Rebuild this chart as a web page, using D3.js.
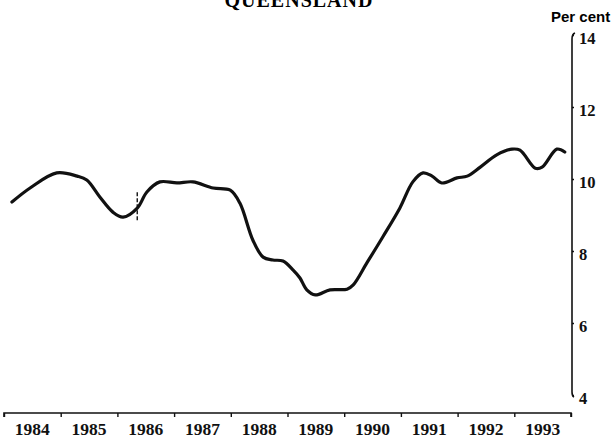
<!DOCTYPE html>
<html><head><meta charset="utf-8">
<script src="https://cdn.jsdelivr.net/npm/d3@7"></script>
<style>body{margin:0;background:#fff}svg{display:block}</style>
</head><body>
<svg id="c" width="616" height="444"></svg>
<script>
const title = "QUEENSLAND";
const unitLabel = "Per cent";
const years = [1984,1985,1986,1987,1988,1989,1990,1991,1992,1993];
const yTicks = [4,6,8,10,12,14];
const t = [1984.14,1984.46,1984.93,1985.29,1985.46,1985.69,1985.92,1986.10,1986.35,1986.52,1986.75,1987.05,1987.33,1987.69,1987.99,1988.16,1988.39,1988.57,1988.74,1988.92,1989.10,1989.22,1989.34,1989.49,1989.75,1990.05,1990.16,1990.40,1990.68,1990.98,1991.21,1991.39,1991.55,1991.72,1991.99,1992.17,1992.40,1992.69,1992.96,1993.10,1993.37,1993.49,1993.75,1993.89];
const v = [9.36,9.75,10.17,10.08,9.97,9.50,9.08,8.94,9.19,9.64,9.92,9.89,9.92,9.75,9.69,9.33,8.30,7.83,7.75,7.72,7.47,7.25,6.92,6.78,6.92,6.94,7.06,7.67,8.39,9.19,9.92,10.17,10.08,9.89,10.03,10.08,10.33,10.67,10.83,10.80,10.30,10.33,10.83,10.75];
const breakMarks = [1986.35];

const svg = d3.select("#c");
const x = d3.scaleLinear().domain([1984,1994]).range([4,571]);
const y = d3.scaleLinear().domain([4,14]).range([395,35]);
const serif = "'Liberation Serif','DejaVu Serif',serif";

svg.append("text").attr("x",299).attr("y",7).attr("text-anchor","middle")
  .attr("font-family",serif).attr("font-weight","bold").attr("font-size",20)
  .attr("letter-spacing",1).text(title);
svg.append("text").attr("x",551).attr("y",22)
  .attr("font-family","'Liberation Sans Narrow','Liberation Sans',sans-serif").attr("font-weight","bold").attr("font-size",15)
  .text(unitLabel);

// x axis
const xa = svg.append("g").attr("transform","translate(0,413)");
xa.call(d3.axisBottom(x).tickValues(d3.range(1984,1995)).tickSize(4).tickFormat(""));
xa.select(".domain").attr("stroke","#111").attr("stroke-width",1.6).attr("d","M4,4V0H571V4");
xa.selectAll(".tick line").attr("stroke","#111").attr("stroke-width",1.4);
xa.selectAll(".yl").data(years).join("text").attr("class","yl")
  .attr("x",d=>x(d+0.5)).attr("y",22).attr("text-anchor","middle")
  .attr("font-family",serif).attr("font-weight","bold").attr("font-size",17.5).attr("fill","#111")
  .text(d=>d);

// y axis
const ya = svg.append("g").attr("transform","translate(572,0)");
ya.call(d3.axisRight(y).tickValues(yTicks).tickSize(2).tickFormat(""));
ya.select(".domain").attr("stroke","#111").attr("stroke-width",1.6).attr("d","M3,"+(y(14)-2)+"Q0,"+(y(14)-1)+" 0,"+(y(14)+4)+"V"+(y(4)-3)+"Q0,"+(y(4)+1)+" 2,"+(y(4)+2));
ya.selectAll(".tick line").attr("stroke","#111").attr("stroke-width",1.6);
ya.selectAll(".vl").data(yTicks).join("text").attr("class","vl")
  .attr("x",7).attr("y",d=>y(d)+9).attr("font-family",serif).attr("font-weight","bold")
  .attr("font-size",16.5).attr("fill","#111").text(d=>d);

// line
const pts = t.map((d,i)=>[d,v[i]]);
svg.append("path").datum(pts).attr("fill","none").attr("stroke","#111").attr("stroke-width",3.2)
  .attr("stroke-linejoin","round").attr("stroke-linecap","round")
  .attr("d",d3.line().x(d=>x(d[0])).y(d=>y(d[1])).curve(d3.curveCatmullRom.alpha(0.5)));

// break marker
svg.selectAll(".bm").data(breakMarks).join("line").attr("class","bm")
  .attr("x1",d=>x(d)).attr("x2",d=>x(d))
  .attr("y1",d=>y(d3.max(v.filter((_,i)=>Math.abs(t[i]-d)<0.01)))-16)
  .attr("y2",d=>y(d3.max(v.filter((_,i)=>Math.abs(t[i]-d)<0.01)))+14)
  .attr("stroke","#111").attr("stroke-width",1.4).attr("stroke-dasharray","4,2");
</script>
</body></html>
